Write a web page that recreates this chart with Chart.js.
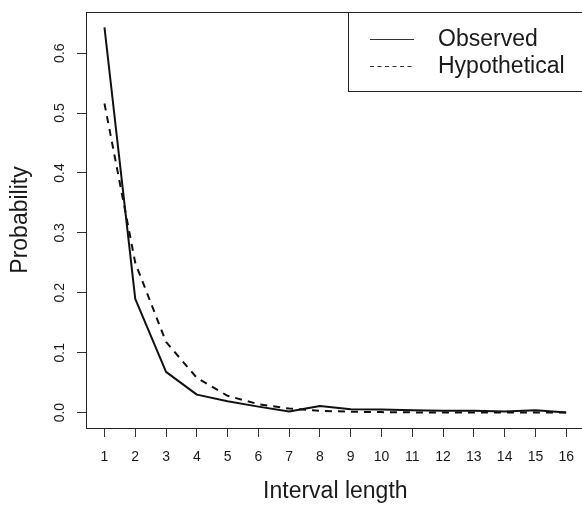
<!DOCTYPE html>
<html><head><meta charset="utf-8">
<script src="https://cdn.jsdelivr.net/npm/chart.js@4/dist/chart.umd.min.js"></script>
<style>
html,body{margin:0;padding:0;background:#fff;overflow:hidden;}
#wrap{width:582px;height:505px;overflow:hidden;position:relative;background:#fff;}
canvas{display:block;}
</style></head><body>
<div id="wrap"><canvas id="c" width="586" height="505"></canvas></div>
<script>
const intervalLengths = [1, 2, 3, 4, 5, 6, 7, 8, 9, 10, 11, 12, 13, 14, 15, 16];
const observed = [0.643, 0.190, 0.068, 0.030, 0.019, 0.010, 0.002, 0.011, 0.0055, 0.005, 0.004, 0.003, 0.003, 0.002, 0.004, 0.0];
const hypothetical = [0.516, 0.250, 0.118, 0.058, 0.028, 0.014, 0.0067, 0.003, 0.0015, 0.0008, 0.0004, 0.0002, 0.0001, 0.0, 0.0, 0.0];
const seriesNames = ['Observed', 'Hypothetical'];
const xTickValues = [1, 2, 3, 4, 5, 6, 7, 8, 9, 10, 11, 12, 13, 14, 15, 16];
const yTickValues = [0, 0.1, 0.2, 0.3, 0.4, 0.5, 0.6];
const yTickLabels = ['0.0', '0.1', '0.2', '0.3', '0.4', '0.5', '0.6'];
const xTitle = 'Interval length';
const yTitle = 'Probability';

const FONT = "'Liberation Sans', Arial, Helvetica, sans-serif";
const INK = '#1a1a1a';

const rPlotExtras = {
  id: 'rPlotExtras',
  afterDraw(chart) {
    const ctx = chart.ctx;
    const a = chart.chartArea;
    const ys = chart.scales.y;
    ctx.save();
    // top and right of the box
    ctx.strokeStyle = '#222';
    ctx.lineWidth = 1;
    ctx.beginPath();
    ctx.moveTo(a.left, Math.round(a.top) + 0.5);
    ctx.lineTo(a.right, Math.round(a.top) + 0.5);
    ctx.lineTo(a.right, a.bottom);
    ctx.stroke();
    // rotated y tick labels
    ctx.fillStyle = INK;
    ctx.font = '14px ' + FONT;
    ctx.textAlign = 'center';
    ctx.textBaseline = 'middle';
    yTickValues.forEach((v, i) => {
      const py = ys.getPixelForValue(v);
      ctx.save();
      ctx.translate(60, py);
      ctx.rotate(-Math.PI / 2);
      ctx.fillText(yTickLabels[i], 0, 0);
      ctx.restore();
    });
    // legend
    const bx = 348.5, by = Math.round(a.top) + 0.5, bh = 79;
    ctx.fillStyle = '#fff';
    ctx.fillRect(bx, by, 400, bh);
    ctx.strokeStyle = '#222';
    ctx.strokeRect(bx, by, 400, bh);
    const rows = [39.5, 66.5];
    chart.data.datasets.forEach((ds, i) => {
      ctx.strokeStyle = '#333';
      ctx.lineWidth = 1;
      ctx.setLineDash(ds.borderDash ? [4, 3.5] : []);
      ctx.beginPath();
      ctx.moveTo(370, rows[i]);
      ctx.lineTo(414, rows[i]);
      ctx.stroke();
      ctx.setLineDash([]);
      ctx.fillStyle = INK;
      ctx.font = '23px ' + FONT;
      ctx.textAlign = 'left';
      ctx.textBaseline = 'middle';
      ctx.fillText(ds.label, 438, rows[i] + 0.5);
    });
    ctx.restore();
  }
};

new Chart(document.getElementById('c'), {
  type: 'line',
  data: {
    datasets: [
      {
        label: seriesNames[0],
        data: intervalLengths.map((x, i) => ({ x: x, y: observed[i] })),
        borderColor: '#111',
        borderWidth: 2,
        pointRadius: 0,
        tension: 0,
        fill: false,
        borderJoinStyle: 'round'
      },
      {
        label: seriesNames[1],
        data: intervalLengths.map((x, i) => ({ x: x, y: hypothetical[i] })),
        borderColor: '#111',
        borderWidth: 2,
        borderDash: [7, 6],
        pointRadius: 0,
        tension: 0,
        fill: false,
        borderJoinStyle: 'round'
      }
    ]
  },
  options: {
    responsive: false,
    animation: false,
    devicePixelRatio: 1,
    layout: { padding: { top: 12, left: 0, right: 0, bottom: 0 } },
    plugins: { legend: { display: false }, tooltip: { enabled: false } },
    scales: {
      x: {
        type: 'linear',
        min: 0.4,
        max: 16.6,
        afterFit(s) { s.height = 77; },
        afterBuildTicks(s) { s.ticks = xTickValues.map(v => ({ value: v })); },
        grid: { drawOnChartArea: false, drawTicks: true, tickLength: 9, color: '#333', lineWidth: 1 },
        border: { display: true, color: '#222', width: 1 },
        ticks: { font: { family: FONT, size: 14 }, color: INK, padding: 12, maxRotation: 0, minRotation: 0, autoSkip: false, callback: v => String(v) },
        title: { display: true, text: xTitle, font: { family: FONT, size: 23 }, color: INK, padding: { top: 0, bottom: 0 } }
      },
      y: {
        type: 'linear',
        min: -0.0257,
        max: 0.6687,
        afterFit(s) { s.width = 86; },
        afterBuildTicks(s) { s.ticks = yTickValues.map(v => ({ value: v })); },
        grid: { drawOnChartArea: false, drawTicks: true, tickLength: 9, color: '#333', lineWidth: 1 },
        border: { display: true, color: '#222', width: 1 },
        ticks: { display: false },
        title: { display: true, text: yTitle, font: { family: FONT, size: 23 }, color: INK, padding: { top: 7, bottom: 0 } }
      }
    }
  },
  plugins: [rPlotExtras]
});
</script>
</body></html>
